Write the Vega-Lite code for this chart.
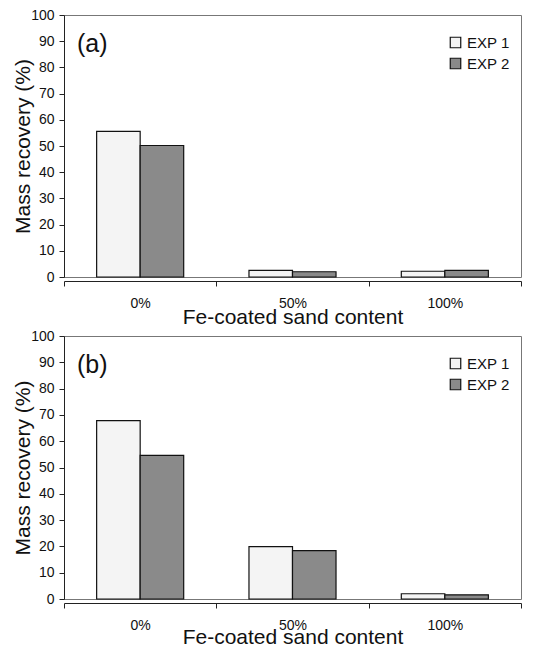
{
  "$schema": "https://vega.github.io/schema/vega-lite/v6.json",
  "padding": {"left": 12, "top": 7, "right": 30, "bottom": 0},
  "background": "white",
  "config": {
    "font": "Liberation Sans",
    "view": {"stroke": "#777", "strokeWidth": 1},
    "axis": {"labelColor": "#111", "titleColor": "#111", "domainColor": "#222", "tickColor": "#222", "labelFontWeight": "normal", "titleFontWeight": "normal"},
    "concat": {"spacing": 0}
  },
  "data": {"values": [
    {"panel": "a", "content": "0%", "exp": "EXP 1", "recovery": 55.6},
    {"panel": "a", "content": "0%", "exp": "EXP 2", "recovery": 50.2},
    {"panel": "a", "content": "50%", "exp": "EXP 1", "recovery": 2.5},
    {"panel": "a", "content": "50%", "exp": "EXP 2", "recovery": 2.0},
    {"panel": "a", "content": "100%", "exp": "EXP 1", "recovery": 2.2},
    {"panel": "a", "content": "100%", "exp": "EXP 2", "recovery": 2.5},
    {"panel": "b", "content": "0%", "exp": "EXP 1", "recovery": 67.8},
    {"panel": "b", "content": "0%", "exp": "EXP 2", "recovery": 54.6},
    {"panel": "b", "content": "50%", "exp": "EXP 1", "recovery": 19.9},
    {"panel": "b", "content": "50%", "exp": "EXP 2", "recovery": 18.4},
    {"panel": "b", "content": "100%", "exp": "EXP 1", "recovery": 2.0},
    {"panel": "b", "content": "100%", "exp": "EXP 2", "recovery": 1.6}
  ]},
  "vconcat": [
    {
      "width": 457, "height": 262,
      "title": {"text": "(a)", "anchor": "start", "frame": "group", "orient": "top", "offset": -49, "dx": 13, "fontSize": 25, "fontWeight": "normal", "color": "#111"},
      "transform": [{"filter": "datum.panel === 'a'"}],
      "mark": {"type": "bar", "stroke": "#111", "strokeWidth": 1.2},
      "encoding": {
        "x": {"field": "content", "type": "nominal", "sort": ["0%", "50%", "100%"],
              "scale": {"paddingInner": 0, "paddingOuter": 0},
              "axis": {"title": "Fe-coated sand content", "labelAngle": 0, "tickBand": "extent", "labelFontSize": 14, "titleFontSize": 21, "labelPadding": 10, "titlePadding": -4, "offset": 4, "tickSize": 5}},
        "xOffset": {"field": "exp", "type": "nominal", "scale": {"paddingInner": 0, "paddingOuter": 0.75}},
        "y": {"field": "recovery", "type": "quantitative", "scale": {"domain": [0, 100]},
              "axis": {"title": "Mass recovery (%)", "values": [0,10,20,30,40,50,60,70,80,90,100], "grid": false, "labelFontSize": 14, "titleFontSize": 21, "titlePadding": -3, "tickSize": 5, "labelPadding": 5}},
        "fill": {"field": "exp", "type": "nominal",
                 "scale": {"domain": ["EXP 1", "EXP 2"], "range": ["#f4f4f4", "#8a8a8a"]},
                 "legend": {"title": null, "orient": "none", "legendX": 384, "legendY": 20, "symbolType": "square", "symbolSize": 110, "symbolStrokeColor": "#111", "symbolStrokeWidth": 1.2, "labelFontSize": 15, "labelColor": "#111", "rowPadding": 4, "labelOffset": 4}}
      }
    },
    {
      "width": 457, "height": 263,
      "title": {"text": "(b)", "anchor": "start", "frame": "group", "orient": "top", "offset": -49, "dx": 13, "fontSize": 25, "fontWeight": "normal", "color": "#111"},
      "transform": [{"filter": "datum.panel === 'b'"}],
      "mark": {"type": "bar", "stroke": "#111", "strokeWidth": 1.2},
      "encoding": {
        "x": {"field": "content", "type": "nominal", "sort": ["0%", "50%", "100%"],
              "scale": {"paddingInner": 0, "paddingOuter": 0},
              "axis": {"title": "Fe-coated sand content", "labelAngle": 0, "tickBand": "extent", "labelFontSize": 14, "titleFontSize": 21, "labelPadding": 10, "titlePadding": -6, "offset": 4, "tickSize": 5}},
        "xOffset": {"field": "exp", "type": "nominal", "scale": {"paddingInner": 0, "paddingOuter": 0.75}},
        "y": {"field": "recovery", "type": "quantitative", "scale": {"domain": [0, 100]},
              "axis": {"title": "Mass recovery (%)", "values": [0,10,20,30,40,50,60,70,80,90,100], "grid": false, "labelFontSize": 14, "titleFontSize": 21, "titlePadding": -3, "tickSize": 5, "labelPadding": 5}},
        "fill": {"field": "exp", "type": "nominal",
                 "scale": {"domain": ["EXP 1", "EXP 2"], "range": ["#f4f4f4", "#8a8a8a"]},
                 "legend": {"title": null, "orient": "none", "legendX": 384, "legendY": 20, "symbolType": "square", "symbolSize": 110, "symbolStrokeColor": "#111", "symbolStrokeWidth": 1.2, "labelFontSize": 15, "labelColor": "#111", "rowPadding": 4, "labelOffset": 4}}
      }
    }
  ],
  "resolve": {"scale": {"fill": "shared"}, "legend": {"fill": "independent"}}
}
